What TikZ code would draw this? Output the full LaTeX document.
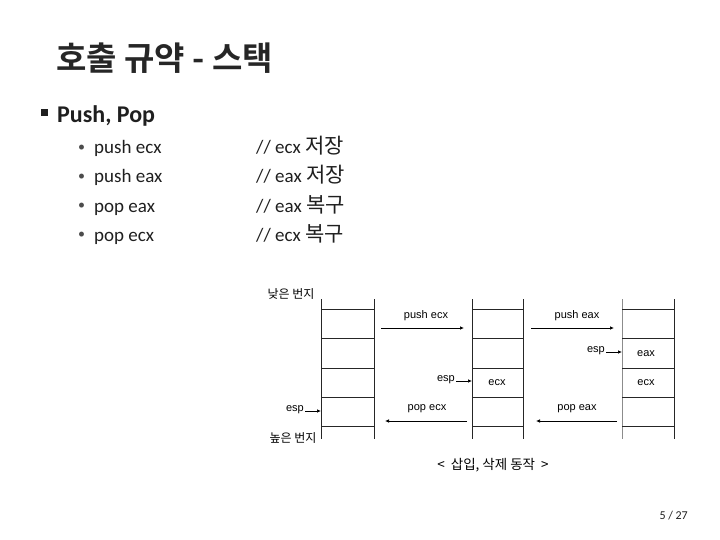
\documentclass[tikz,border=0pt]{standalone}
\usepackage{fontspec}
\setmainfont{Carlito}
\newfontfamily\kr{Noto Sans CJK KR}
\newfontfamily\krb{Noto Sans CJK KR Bold}
\newfontfamily\dg{Liberation Sans}
\usetikzlibrary{arrows.meta}
\definecolor{txt}{HTML}{1F1F1F}
\tikzset{
  x=1pt,y=-1pt,
  body/.style={anchor=base west,inner sep=0pt,text=txt,font=\fontsize{19}{22}\selectfont},
  dlabel/.style={inner sep=0pt,font=\dg\fontsize{11}{12}\selectfont},
  stackline/.style={line width=0.8pt,draw=black!85},
  arr/.style={line width=0.7pt,-{Latex[length=4pt,width=3.5pt]}},
}
\begin{document}
\begin{tikzpicture}
\useasboundingbox (0,0) rectangle (720,540);
% title
\node[anchor=west,inner sep=0pt,text=black!85,font=\krb\fontsize{33}{36}\selectfont] (title) at (56,58) {호출 규약 - 스택};
% level 1
\fill[txt] (41,109) rectangle (48,116);
\node[body,font=\bfseries\fontsize{24}{28}\selectfont] (l1) at (57,123) {Push, Pop};
% level 2
\foreach \y/\a/\b/\c [count=\i] in {148/push ecx/ecx/저장,177/push eax/eax/저장,206/pop eax/eax/복구,235/pop ecx/ecx/복구}{
  \node[body,text=black!70,font=\fontsize{14}{16}\selectfont] (b\i) at (78,\y+4) {•};
  \node[body] (c\i) at (94,\y+6) {\a};
  \node[body] (d\i) at (256,\y+6) {// \b\ {\kr\fontsize{21}{22}\selectfont\c}};
}
% stacks
\foreach \n/\L/\R/\col in {s1/321/374/black!85,s2/472/523/black!85,s3/622/674/black!45}{
  \draw[stackline,draw=\col] (\L,299) -- (\L,439);
  \draw[stackline] (\R,299) -- (\R,439);
  \foreach \yy in {309,338,368,397,426}{
    \draw[stackline] (\L,\yy) -- (\R,\yy);
  }
  \coordinate (\n L) at (\L,0);
  \coordinate (\n R) at (\R,0);
}
\node[dlabel,font=\kr\fontsize{12}{13}\selectfont] (low) at (291,294) {낮은 번지};
\node[dlabel,font=\kr\fontsize{12}{13}\selectfont] (high) at (293,438) {높은 번지};
% contents
\node[dlabel] (v1) at (497,383) {ecx};
\node[dlabel] (v2) at (646,354) {eax};
\node[dlabel] (v3) at (646,383) {ecx};
% esp pointers
\node[dlabel,anchor=east] (e1) at (304,410) {esp};
\draw[arr] (e1.east) ++(1,1) -- (321,411);
\node[dlabel,anchor=east] (e2) at (455,380) {esp};
\draw[arr] (e2.east) ++(1,1) -- (472,381);
\node[dlabel,anchor=east] (e3) at (605,351) {esp};
\draw[arr] (e3.east) ++(1,1) -- (622,352);
% operations
\coordinate (p1a) at (381,328); \coordinate (p1b) at (464,328);
\draw[arr] (p1a) -- (p1b);
\node[dlabel] (t1) at (426,316) {push ecx};
\coordinate (p2a) at (531,328); \coordinate (p2b) at (614,328);
\draw[arr] (p2a) -- (p2b);
\node[dlabel] (t2) at (577,316) {push eax};
\coordinate (q1a) at (467,421); \coordinate (q1b) at (385,421);
\draw[arr] (q1a) -- (q1b);
\node[dlabel] (t3) at (427,409) {pop ecx};
\coordinate (q2a) at (617,421); \coordinate (q2b) at (536,421);
\draw[arr] (q2a) -- (q2b);
\node[dlabel] (t4) at (577,409) {pop eax};
% caption
\node[dlabel,font=\kr\fontsize{13.5}{15}\selectfont] (cap) at (493,465) {<\ \ 삽입, 삭제 동작\ \ >};
% page number
\node[anchor=east,inner sep=0pt,text=txt,font=\fontsize{12}{13}\selectfont] (pg) at (688,516) {5 / 27};
\end{tikzpicture}
\end{document}
